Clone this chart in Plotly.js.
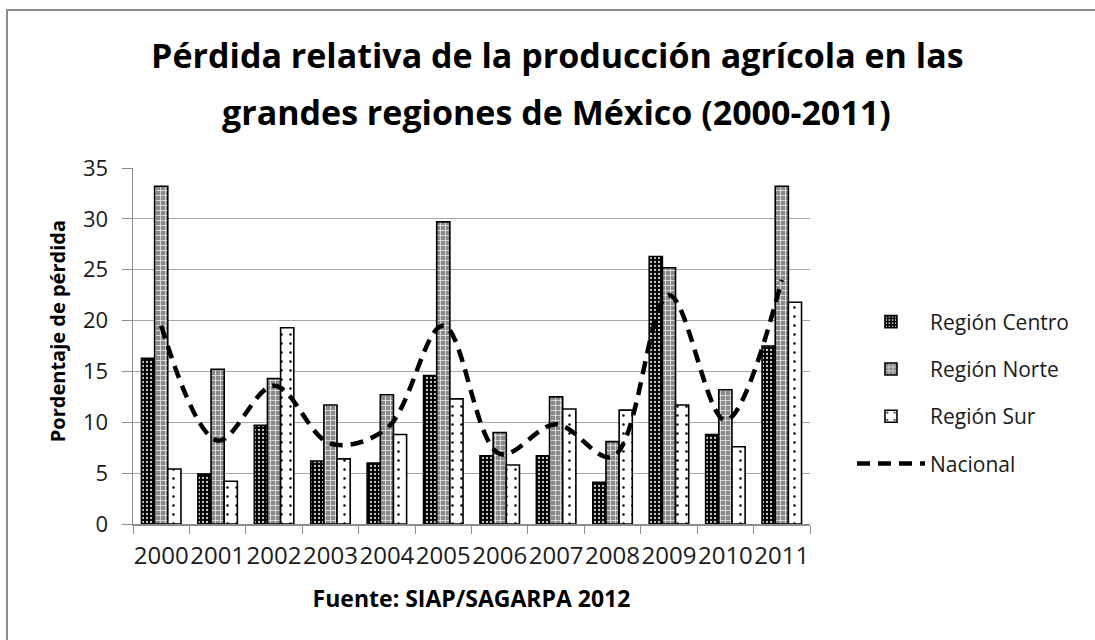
<!DOCTYPE html>
<html>
<head>
<meta charset="utf-8">
<script src="https://cdn.plot.ly/plotly-3.0.1.min.js"></script>
<style>
  html, body { margin: 0; padding: 0; background: #fff; }
  #wrap { position: relative; width: 1095px; height: 640px; overflow: hidden; }
  #frame { position: absolute; left: 6px; top: 9px; width: 1200px; height: 800px;
           border-left: 2px solid #8c8c8c; border-top: 2px solid #8c8c8c; box-sizing: border-box; pointer-events: none; }
  #chart { position: absolute; left: 0; top: 0; width: 1095px; height: 640px; }
</style>
</head>
<body>
<div id="wrap">
  <div id="chart"></div>
  <div id="frame"></div>
</div>
<script>
const years = ['2000','2001','2002','2003','2004','2005','2006','2007','2008','2009','2010','2011'];
const centro = [16.3, 4.9, 9.7, 6.2, 6.0, 14.6, 6.7, 6.7, 4.1, 26.3, 8.8, 17.5];
const norte  = [33.2, 15.2, 14.3, 11.7, 12.7, 29.7, 9.0, 12.5, 8.1, 25.2, 13.2, 33.2];
const sur    = [5.4, 4.2, 19.3, 6.4, 8.8, 12.3, 5.8, 11.3, 11.2, 11.7, 7.6, 21.8];
const nacional = [19.5, 8.2, 13.6, 7.9, 9.4, 19.5, 6.9, 9.8, 6.6, 22.5, 10.2, 24.0];
const names = ['Región Centro', 'Región Norte', 'Región Sur', 'Nacional'];
const titleLine1 = 'Pérdida relativa de la producción agrícola en las';
const titleLine2 = 'grandes regiones de México (2000-2011)';
const yTitle = 'Pordentaje de pérdida';
const xTitle = 'Fuente: SIAP/SAGARPA 2012';

const FONT = 'Open Sans, Liberation Sans, sans-serif';
const outline = { color: '#000', width: 1.6 };

const traces = [
  { type: 'bar', name: names[0], x: years, y: centro, legendgroup: 'a',
    marker: { color: '#000', line: outline,
      pattern: { shape: '.', bgcolor: '#000', fgcolor: '#d0d0d0', size: 4, solidity: 0.25 } } },
  { type: 'bar', name: names[1], x: years, y: norte, legendgroup: 'b',
    marker: { color: '#888', line: outline,
      pattern: { shape: '+', bgcolor: '#8a8a8a', fgcolor: '#e8e8e8', size: 5, solidity: 0.3 } } },
  { type: 'bar', name: names[2], x: years, y: sur, legendgroup: 'c',
    marker: { color: '#fff', line: outline,
      pattern: { shape: '.', bgcolor: '#fff', fgcolor: '#000', size: 9, solidity: 0.06 } } },
  { type: 'scatter', mode: 'lines', name: names[3], x: years, y: nacional, legendgroup: 'd',
    line: { color: '#000', width: 4.5, dash: '13px,8px', shape: 'spline', smoothing: 1 } }
];

const titleFont = { family: FONT, size: 34, color: '#000', weight: 'bold' };

const layout = {
  width: 1095, height: 640,
  margin: { l: 133, r: 285, t: 168, b: 116, pad: 0 },
  paper_bgcolor: 'rgba(0,0,0,0)', plot_bgcolor: '#fff',
  font: { family: FONT, color: '#1a1a1a' },
  barmode: 'group', bargap: 0.3, bargroupgap: 0,
  title: { text: titleLine1, font: titleFont,
           x: 0.509, xanchor: 'center', xref: 'container', y: 0.912, yanchor: 'middle', yref: 'container' },
  annotations: [
    { text: titleLine2, xref: 'paper', yref: 'paper', x: 0.626, y: 1.158, xanchor: 'center', yanchor: 'middle',
      showarrow: false, font: titleFont },
    { text: yTitle, xref: 'paper', yref: 'paper', x: -0.112, y: 0.542, xanchor: 'center', yanchor: 'middle',
      textangle: -90, showarrow: false, font: { family: FONT, size: 20, color: '#000', weight: 'bold' } }
  ],
  xaxis: {
    type: 'category', tickangle: 0, tickson: 'boundaries', ticks: 'outside', ticklen: 8, tickcolor: '#8c8c8c',
    showline: true, linecolor: '#8c8c8c', linewidth: 1.5, showgrid: false, ticklabelstandoff: 10,
    tickfont: { family: FONT, size: 24, color: '#1a1a1a' },
    title: { text: xTitle, font: { family: FONT, size: 23, color: '#000', weight: 'bold' }, standoff: 20 }
  },
  yaxis: {
    range: [0, 35], dtick: 5, ticks: 'outside', ticklen: 10, tickcolor: '#8c8c8c',
    showline: true, linecolor: '#8c8c8c', linewidth: 1.5, ticklabelstandoff: 9,
    showgrid: true, gridcolor: '#a6a6a6', gridwidth: 1, zeroline: false,
    tickfont: { family: FONT, size: 22, color: '#1a1a1a' }
  },
  legend: {
    x: 1.062, xanchor: 'left', y: 0.625, yanchor: 'top',
    font: { family: FONT, size: 21, color: '#1a1a1a' },
    itemwidth: 68, tracegroupgap: 17, traceorder: 'grouped',
    bgcolor: 'rgba(0,0,0,0)'
  },
  showlegend: true
};

Plotly.newPlot('chart', traces, layout, { displayModeBar: false, staticPlot: true });
</script>
</body>
</html>
